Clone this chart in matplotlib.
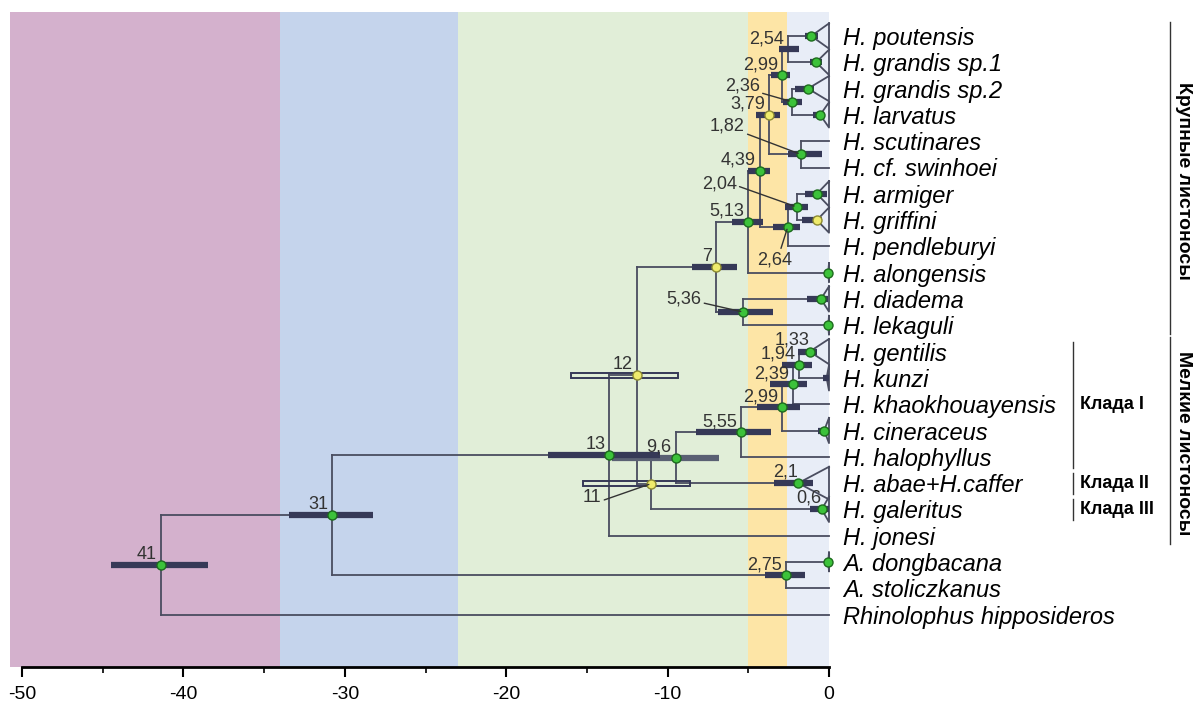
import matplotlib.pyplot as plt
from matplotlib.patches import Rectangle

plt.rcParams['axes.unicode_minus'] = False

# таксоны сверху вниз
taxa = ["H. poutensis", "H. grandis sp.1", "H. grandis sp.2", "H. larvatus",
        "H. scutinares", "H. cf. swinhoei", "H. armiger", "H. griffini",
        "H. pendleburyi", "H. alongensis", "H. diadema", "H. lekaguli",
        "H. gentilis", "H. kunzi", "H. khaokhouayensis", "H. cineraceus",
        "H. halophyllus", "H. abae+H.caffer", "H. galeritus", "H. jonesi",
        "A. dongbacana", "A. stoliczkanus", "Rhinolophus hipposideros"]

# свернутые клады (треугольники): строка, возраст вершины, 95% HPD, цвет точки, подпись
tri_row = [0, 1, 2, 3, 6, 7, 9, 10, 11, 12, 13, 15, 17, 18, 20]
tri_age = [1.1, 0.8, 1.3, 0.55, 0.75, 0.75, 0.05, 0.5, 0.05, 1.2, 0.15, 0.3, 1.9, 0.45, 0.05]
tri_old = [1.5, 1.2, 2.1, 1.0, 1.5, 1.7, 0.0, 1.35, 0.0, 1.95, 0.4, 0.7, 3.4, 1.2, 0.0]
tri_young = [0.7, 0.45, 0.9, 0.4, 0.15, 0.45, 0.0, 0.05, 0.0, 0.75, 0.0, 0.0, 1.0, 0.0, 0.0]
tri_dot = ['g', 'g', 'g', 'g', 'g', 'y', 'g', 'g', 'g', 'g', '', 'g', 'g', 'g', 'g']
tri_label = ['', '', '', '', '', '', '', '', '', '1,33', '', '', '2,1', '0,6', '']

# внутренние узлы
node_name = ['n254', 'n236', 'n299a', 'n182', 'n379', 'n204', 'n264', 'n439', 'n513',
             'n536', 'n7', 'n194', 'n239', 'n299b', 'n555', 'n96', 'n11', 'n12',
             'n13', 'n275', 'n31', 'n41']
node_kids = [(0, 1), (2, 3), ('n254', 'n236'), (4, 5), ('n299a', 'n182'), (6, 7),
             ('n204', 8), ('n379', 'n264'), ('n439', 9), (10, 11), ('n513', 'n536'),
             (12, 13), ('n194', 14), ('n239', 15), ('n299b', 16), ('n555', 17),
             ('n96', 18), ('n7', 'n11'), ('n12', 19), (20, 21), ('n13', 'n275'),
             ('n31', 22)]
node_age = [2.54, 2.3, 2.9, 1.75, 3.7, 2.0, 2.55, 4.3, 5.0, 5.3, 7.0, 1.85, 2.25,
            2.9, 5.45, 9.5, 11.0, 11.9, 13.6, 2.65, 30.8, 41.4]
node_old = [3.1, 2.85, 3.6, 2.55, 4.5, 2.7, 3.45, 5.0, 6.0, 6.9, 8.5, 2.9, 3.65,
            4.45, 8.25, 13.45, 15.25, 16.0, 17.4, 3.95, 33.45, 44.5]
node_young = [1.85, 1.67, 2.4, 0.45, 3.05, 1.3, 1.8, 3.65, 4.1, 3.5, 5.7, 1.05, 1.35,
              1.8, 3.6, 6.8, 8.6, 9.35, 10.5, 1.5, 28.25, 38.5]
node_dot = ['', 'g', 'g', 'g', 'y', 'g', 'g', 'g', 'g', 'g', 'y', 'g', 'g', 'g', 'g',
            'g', 'y', 'y', 'g', 'g', 'g', 'g']
node_label = ['2,54', '2,36', '2,99', '1,82', '3,79', '2,04', '2,64', '4,39', '5,13',
              '5,36', '7', '1,94', '2,39', '2,99', '5,55', '9,6', '11', '12', '13',
              '2,75', '31', '41']

# геологические интервалы (млн лет)
period_edges = [-50.75, -34.0, -23.0, -5.0, -2.6, 0.0]
period_colors = ['#d4b1cd', '#c5d4ec', '#e1eed8', '#fde5a6', '#e8edf7']

# группы справа
group_names = ['Крупные листоносы', 'Мелкие листоносы']
group_rows = [(0, 11), (12, 19)]
clade_names = ['Клада I', 'Клада II', 'Клада III']
clade_rows = [(12, 16), (17, 17), (18, 18)]

LINE = '#4a4d60'
BAR = '#363957'
DOT = {'g': ('#3cc23a', '#1d6b1d'), 'y': ('#efeb6c', '#8c8a32')}

fig = plt.figure(figsize=(11.97, 7.07), dpi=100)
ax = fig.add_axes([0, 40 / 707, 1, 667 / 707])
ax.set_xlim(-829 / 16.14, (1197 - 829) / 16.14)
ax.set_ylim((667 - 36) / 26.3, -36 / 26.3)

for i in range(len(period_colors)):
    ax.axvspan(period_edges[i], period_edges[i + 1], ymin=0.0, ymax=0.982,
               color=period_colors[i], lw=0, zorder=0)

# координаты
xpos, ypos = {}, {}
for i in range(len(taxa)):
    xpos[i], ypos[i] = 0.0, float(i)
for r, a in zip(tri_row, tri_age):
    xpos[r] = -a
for name, (a, b), age in zip(node_name, node_kids, node_age):
    ypos[name] = (ypos[a] + ypos[b]) / 2
    xpos[name] = -age

# ветви
for name, kids in zip(node_name, node_kids):
    x = xpos[name]
    ax.plot([x, x], [ypos[kids[0]], ypos[kids[1]]], color=LINE, lw=1.3, zorder=2)
    for k in kids:
        ax.plot([x, xpos[k]], [ypos[k], ypos[k]], color=LINE, lw=1.3, zorder=2)

# треугольники
for r, a in zip(tri_row, tri_age):
    h = 0.62 if r == 17 else (0.36 if a < 0.1 else 0.48)
    ax.plot([0, -a, 0, 0], [r - h, r, r + h, r - h], color=LINE, lw=1.3, zorder=2)

# интервалы HPD
def draw_bar(old, young, y, kind):
    if old <= young:
        return
    if kind == 'hollow':
        ax.add_patch(Rectangle((-old, y - 0.09), old - young, 0.18, fill=False,
                               ec=BAR, lw=1.4, zorder=3))
    else:
        c = '#5a6073' if kind == 'light' else BAR
        ax.plot([-old, -young], [y, y], color=c, lw=4.5, solid_capstyle='butt', zorder=3)

for name, o, yng in zip(node_name, node_old, node_young):
    kind = 'hollow' if name in ('n11', 'n12') else ('light' if name == 'n96' else 'solid')
    draw_bar(o, yng, ypos[name], kind)
for r, o, yng in zip(tri_row, tri_old, tri_young):
    draw_bar(o, yng, r, 'solid')

# точки узлов
def draw_dot(x, y, c):
    if c:
        fc, ec = DOT[c]
        ax.plot(x, y, 'o', ms=6.5, mfc=fc, mec=ec, mew=1, zorder=4)

for name, c in zip(node_name, node_dot):
    draw_dot(xpos[name], ypos[name], c)
for r, c in zip(tri_row, tri_dot):
    draw_dot(xpos[r], r, c)

# подписи возрастов
lab_font = dict(family='Liberation Sans', fontsize=13, color='#333333', zorder=5)
leaders = {'n236': ((-32, 16), (1, 0.1)), 'n182': ((-56, 28), (1, 0.1)),
           'n204': ((-60, 23), (1, 0.4)), 'n264': ((-13, -33), (0.65, 1)),
           'n536': ((-42, 13), (1, 0.3)), 'n11': ((-50, -14), (1, 0.3))}
for name, lab in zip(node_name, node_label):
    xy = (xpos[name], ypos[name])
    if name in leaders:
        off, rel = leaders[name]
        ha = 'center' if name == 'n264' else 'right'
        ax.annotate(lab, xy, xytext=off, textcoords='offset pixels', ha=ha, va='center',
                    arrowprops=dict(arrowstyle='-', color='#333333', lw=1, relpos=rel,
                                    shrinkA=0, shrinkB=2), **lab_font)
    else:
        ax.annotate(lab, xy, xytext=(-4, 6), textcoords='offset pixels', ha='right',
                    va='baseline', **lab_font)
for r, lab in zip(tri_row, tri_label):
    if lab:
        ax.annotate(lab, (xpos[r], r), xytext=(0, 7), textcoords='offset pixels',
                    ha='right', va='baseline', **lab_font)

# названия таксонов
for i, t in enumerate(taxa):
    ax.text(0.87, i, t, family='Liberation Sans', style='italic', fontsize=17,
            ha='left', va='center_baseline', zorder=5)

# скобки групп
for name, (a, b) in zip(group_names, group_rows):
    ax.plot([21.13, 21.13], [a - 0.55, b + 0.33], color='#333333', lw=1, clip_on=False)
    ax.text(21.95, (a + b) / 2, name, rotation=270, ha='center', va='center',
            family='Liberation Sans', weight='bold', fontsize=14)
for name, (a, b) in zip(clade_names, clade_rows):
    ax.plot([15.12, 15.12], [a - 0.38, b + 0.42], color='#333333', lw=1)
    ax.text(15.55, (a + b) / 2, name, ha='left', va='center',
            family='Liberation Sans', weight='bold', fontsize=13)

# ось времени
for s in ('top', 'left', 'right'):
    ax.spines[s].set_visible(False)
ax.spines['bottom'].set_bounds(-50, 0)
ax.spines['bottom'].set_linewidth(2)
ax.set_yticks([])
ax.set_xticks(range(-50, 1, 10))
ax.set_xticks(range(-45, 0, 10), minor=True)
ax.tick_params(axis='x', which='major', length=7, width=1.5, pad=7)
ax.tick_params(axis='x', which='minor', length=4, width=1.2)
for t in ax.get_xticklabels():
    t.set_fontfamily(['Liberation Sans Narrow', 'Liberation Sans'])
    t.set_fontsize(14)
ax.patch.set_visible(False)

fig.savefig('out.png', dpi=100)
